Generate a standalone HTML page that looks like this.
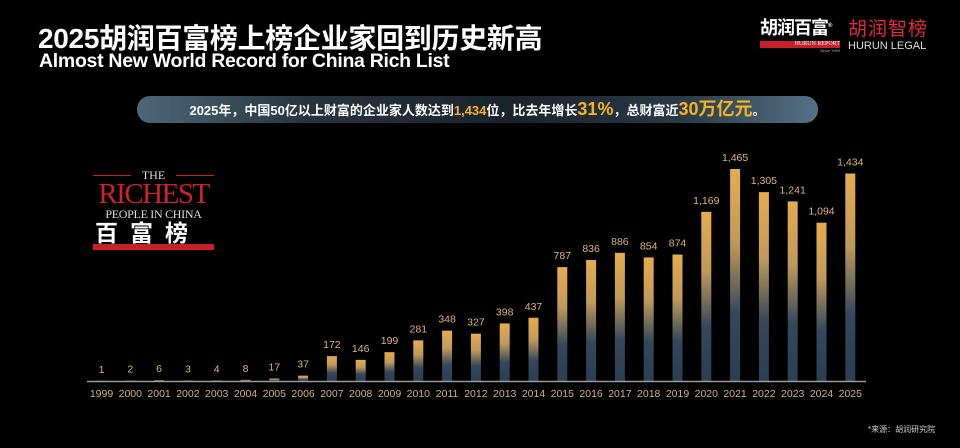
<!DOCTYPE html>
<html><head><meta charset="utf-8">
<style>
body{margin:0;background:#000;width:960px;height:448px;overflow:hidden;position:relative;font-family:"Liberation Sans","Noto Sans CJK SC",sans-serif;}
.abs{position:absolute;}
#title{left:38px;top:17px;color:#fff;font-size:28px;font-weight:bold;letter-spacing:-0.3px;white-space:nowrap;}
#subtitle{left:39px;top:50px;color:#fff;font-size:19.5px;font-weight:bold;white-space:nowrap;letter-spacing:-0.3px;}
#banner{left:137px;top:96px;width:681px;height:27px;border-radius:13px;background:linear-gradient(90deg,#4d6779 0%,#26343f 25%,#1a232b 55%,#2a3a47 80%,#557186 100%);color:#fff;font-size:13px;font-weight:bold;text-align:center;line-height:27px;white-space:nowrap;}
.g{color:#f5b324;}
.big{font-size:18px;}
</style></head><body>
<div id="title" class="abs">2025胡润百富榜上榜企业家回到历史新高</div>
<div id="subtitle" class="abs">Almost New World Record for China Rich List</div>
<div class="abs" style="left:760px;top:14px;">
 <div style="color:#fff;font-size:18px;font-weight:bold;letter-spacing:-1px;">胡润百富<sup style="font-size:6px">®</sup></div>
 <div style="background:#c8202a;color:#fff;font-size:6px;width:80px;text-align:right;height:7px;line-height:7px;margin-top:1px;font-family:'Liberation Serif',serif;">HURUN REPORT</div>
 <div style="color:#aaa;font-size:4px;width:80px;text-align:right;">Since 1999</div>
</div>
<div class="abs" style="left:848px;top:14px;">
 <div style="color:#e5283a;font-size:19px;letter-spacing:1px;">胡润智榜</div>
 <div style="color:#ddd;font-size:11px;margin-top:-1px;">HURUN LEGAL</div>
</div>
<div id="banner" class="abs">2025年，中国50亿以上财富的企业家人数达到<span class="g">1,434</span>位，比去年增长<span class="g big">31%</span>，总财富近<span class="g big">30万亿元</span>。</div>
<div class="abs" style="left:93px;top:169px;width:121px;">
 <div style="position:relative;height:12px;">
  <div style="position:absolute;left:0;top:6px;width:38px;height:1px;background:#c8202a"></div>
  <div style="position:absolute;right:0;top:6px;width:38px;height:1px;background:#c8202a"></div>
  <div style="text-align:center;color:#ddd;font-size:12px;line-height:12px;font-family:'Liberation Serif',serif;">THE</div>
 </div>
 <div style="color:#d0212a;font-family:'Liberation Serif',serif;font-size:29px;line-height:26px;text-align:center;letter-spacing:-1.5px;">RICHEST</div>
 <div style="color:#ddd;font-family:'Liberation Serif',serif;font-size:12px;text-align:center;line-height:14px;letter-spacing:-0.3px;white-space:nowrap;">PEOPLE IN CHINA</div>
 <div style="color:#fff;font-size:23px;font-weight:bold;letter-spacing:12px;line-height:25px;padding-left:2px;white-space:nowrap;">百富榜</div>
 <div style="height:6px;background:#c8202a;margin-top:-2px;"></div>
</div>
<svg class="abs" style="left:0;top:0" width="960" height="448">
 <defs><linearGradient id="bg" x1="0" y1="0" x2="0" y2="1">
  <stop offset="0" stop-color="#e6ac4e"/><stop offset="0.35" stop-color="#c09a5a"/><stop offset="0.68" stop-color="#34475b"/><stop offset="1" stop-color="#2c3e51"/>
 </linearGradient></defs>
 <g id="bars"></g>
 <line x1="87" y1="381.5" x2="866" y2="381.5" stroke="#9a9a9a" stroke-width="1.5"/>
 <text x="868" y="432" fill="#ccc" font-size="8">*来源：胡润研究院</text>
</svg>
<script>
const years=["1999","2000","2001","2002","2003","2004","2005","2006","2007","2008","2009","2010","2011","2012","2013","2014","2015","2016","2017","2018","2019","2020","2021","2022","2023","2024","2025"];
const counts=[1,2,6,3,4,8,17,37,172,146,199,281,348,327,398,437,787,836,886,854,874,1169,1465,1305,1241,1094,1434];
const valueLabels=["1","2","6","3","4","8","17","37","172","146","199","281","348","327","398","437","787","836","886","854","874","1,169","1,465","1,305","1,241","1,094","1,434"];
const NS="http://www.w3.org/2000/svg";
const baseY=381,x0=101.5,step=28.8,barW=10,scale=212/1465;
const xPos=i=>x0+i*step;
const yPos=v=>baseY-v*scale;
const g=document.getElementById('bars');
years.forEach((yr,i)=>{
 const cx=xPos(i),top=yPos(counts[i]);
 const r=document.createElementNS(NS,'rect');
 r.setAttribute('x',cx-barW/2);r.setAttribute('y',top);r.setAttribute('width',barW);r.setAttribute('height',Math.max(baseY-top,0.5));
 r.setAttribute('fill','url(#bg)');
 
 
 g.appendChild(r);
 const t=document.createElementNS(NS,'text');
 t.setAttribute('x',cx);t.setAttribute('y',top-8);t.setAttribute('text-anchor','middle');
 t.setAttribute('fill','#dcb679');t.setAttribute('font-size','10.5');
 t.textContent=valueLabels[i];
 
 
 g.appendChild(t);
 const l=document.createElementNS(NS,'text');
 l.setAttribute('x',cx);l.setAttribute('y',397);l.setAttribute('text-anchor','middle');
 l.setAttribute('fill','#d6b27a');l.setAttribute('font-size','10.5');
 l.textContent=yr;
 
 
 g.appendChild(l);
});
</script>
</body></html>
